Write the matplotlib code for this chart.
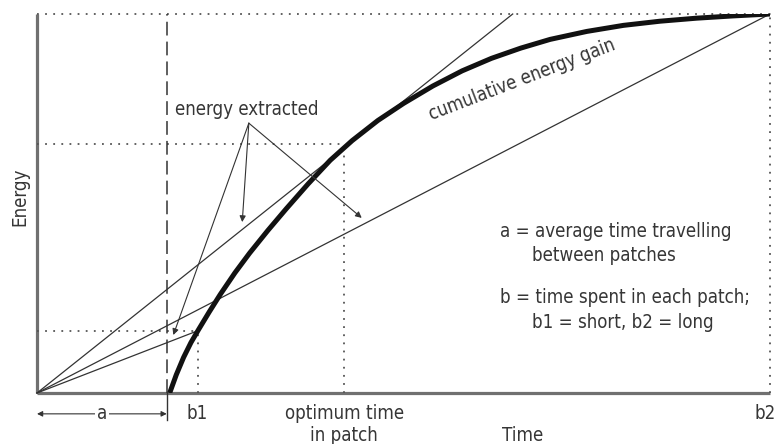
import matplotlib.pyplot as plt
from matplotlib import font_manager as fm

# time / energy values, both scaled 0..100
curve_t = [18.1, 19.0, 20.0, 21.0, 22.0, 23.5, 25.0, 27.0, 29.0, 31.5, 34.0, 37.0, 40.0,
           43.0, 46.5, 50.0, 54.0, 58.0, 62.0, 66.0, 70.0, 75.0, 80.0, 85.0, 90.0, 95.0, 100.0]
curve_e = [0.0, 4.8, 9.4, 13.3, 16.6, 21.4, 26.0, 31.7, 36.9, 42.9, 48.6, 55.2, 61.4,
           66.6, 71.9, 76.4, 81.0, 85.0, 88.3, 91.0, 93.3, 95.4, 97.0, 98.1, 98.9, 99.5, 100.0]

travel_a = 17.7
b1_t, b1_e = 21.9, 16.4
opt_t, opt_e = 41.9, 65.7
b2_t, b2_e = 100.0, 100.0
tangent_end = (64.9, 100.0)

arrow_src = (28.9, 71.2)
arrow_tips = [(28.0, 45.1), (44.3, 46.2), (18.6, 15.3)]


def pick_font():
    # the figure uses a narrow grotesque; take the closest installed face
    for f in fm.fontManager.ttflist:
        if f.name == "Liberation Sans Narrow" and f.style == "normal" and f.weight in (400, "normal", "regular"):
            return fm.FontProperties(fname=f.fname), 15.0
    for f in fm.fontManager.ttflist:
        if f.name == "DejaVu Sans" and f.stretch == "condensed" and f.style == "normal" \
                and f.weight in (400, "normal", "regular"):
            return fm.FontProperties(fname=f.fname), 13.4
    return fm.FontProperties(family="Liberation Sans"), 12.5


FP, FS = pick_font()
TXT = "#363636"

fig = plt.figure(figsize=(7.83, 4.44), dpi=100)
fig.patch.set_facecolor("white")
ax = fig.add_axes([37 / 783, 51 / 444, 733 / 783, 379 / 444])
ax.set_xlim(0, 100)
ax.set_ylim(0, 100)
ax.axis("off")


def label(x, y, s, **kw):
    kw.setdefault("ha", "center")
    kw.setdefault("va", "center")
    return ax.text(x, y, s, fontproperties=FP, fontsize=FS, color=TXT, clip_on=False, **kw)


# axes
ax.plot([0, 0], [0, 100], color="#707070", lw=2.3, clip_on=False, solid_capstyle="butt")
ax.plot([0, 100], [0, 0], color="#707070", lw=2.3, clip_on=False, solid_capstyle="butt")

# dotted guides
dot = dict(color="#555555", lw=1.3, ls=(0, (1, 3.5)), clip_on=False)
ax.plot([0, 100], [100, 100], **dot)
ax.plot([b2_t, b2_t], [0, 100], **dot)
ax.plot([0, opt_t], [opt_e, opt_e], **dot)
ax.plot([opt_t, opt_t], [0, opt_e], **dot)
ax.plot([0, b1_t], [b1_e, b1_e], **dot)
ax.plot([b1_t, b1_t], [0, b1_e], **dot)

# travel time boundary
ax.plot([travel_a, travel_a], [0, 100], color="#333333", lw=1.1, ls=(0, (9, 4)), clip_on=False)
ax.plot([travel_a, travel_a], [-7.1, 0], color="#333333", lw=1.0, clip_on=False)

# rate lines from origin
thin = dict(color="#333333", lw=0.9, clip_on=False)
ax.plot([0, tangent_end[0]], [0, tangent_end[1]], **thin)
ax.plot([0, b1_t], [0, b1_e], **thin)
ax.plot([0, b2_t], [0, b2_e], **thin)

# gain curve
ax.plot(curve_t, curve_e, color="#111111", lw=3.6, solid_capstyle="butt", solid_joinstyle="round")

# energy extracted arrows
label(28.6, 74.7, "energy extracted")
for tip in arrow_tips:
    ax.annotate("", xy=tip, xytext=arrow_src,
                arrowprops=dict(arrowstyle="-|>", color="#333333", lw=0.8,
                                mutation_scale=9, shrinkA=0, shrinkB=0))

label(66.2, 82.6, "cumulative energy gain", rotation=21, rotation_mode="anchor")

# legend block
label(63.2, 42.5, "a = average time travelling", ha="left")
label(67.5, 36.4, "between patches", ha="left")
label(63.2, 25.1, "b = time spent in each patch;", ha="left")
label(67.5, 18.5, "b1 = short, b2 = long", ha="left")

# bottom labels
ax.annotate("", xy=(0, -5.5), xytext=(travel_a, -5.5),
            arrowprops=dict(arrowstyle="<|-|>", color="#333333", lw=0.8,
                            mutation_scale=8, shrinkA=0, shrinkB=0), annotation_clip=False)
label(8.9, -5.5, "a", bbox=dict(facecolor="white", edgecolor="none", pad=1.5))
label(b1_t, -5.3, "b1")
label(opt_t, -5.3, "optimum time")
label(opt_t, -11.1, "in patch")
label(66.3, -11.1, "Time")
label(99.3, -5.3, "b2")
label(-2.3, 51.7, "Energy", rotation=90)

fig.savefig("out.png", dpi=100, facecolor="white")
